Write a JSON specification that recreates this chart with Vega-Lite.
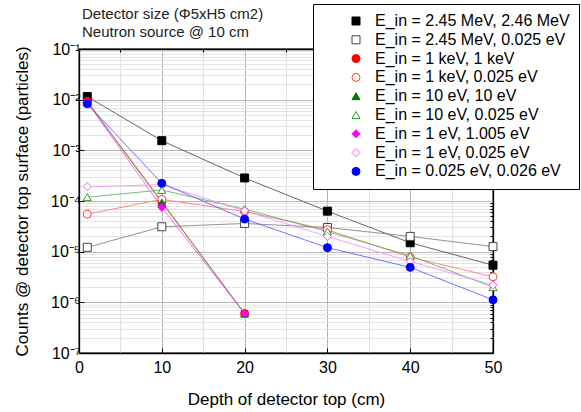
{
  "$schema": "https://vega.github.io/schema/vega-lite/v6.json",
  "width": 414,
  "height": 304,
  "autosize": {"type": "none"},
  "padding": {"left": 79, "top": 49, "right": 88, "bottom": 59},
  "background": "white",
  "config": {
    "font": "Liberation Sans",
    "view": {"stroke": "#000", "strokeWidth": 1.3},
    "axis": {"labelFont": "Liberation Sans", "titleFont": "Liberation Sans", "labelColor": "#000", "titleColor": "#000", "titleFontWeight": "normal", "domainColor": "#000", "tickColor": "#000"}
  },
  "title": {
    "text": ["Detector size (Φ5xH5 cm2)", "Neutron source @ 10 cm"],
    "anchor": "start",
    "frame": "group",
    "fontSize": 15,
    "fontWeight": "normal",
    "font": "Liberation Sans",
    "color": "#222",
    "lineHeight": 18,
    "offset": 0,
    "dx": 3,
    "dy": 36
  },
  "data": {
    "values": [
      {"series": "E_in = 2.45 MeV, 2.46 MeV", "depth": 1, "counts": 0.0115},
      {"series": "E_in = 2.45 MeV, 2.46 MeV", "depth": 10, "counts": 0.00155},
      {"series": "E_in = 2.45 MeV, 2.46 MeV", "depth": 20, "counts": 0.000285},
      {"series": "E_in = 2.45 MeV, 2.46 MeV", "depth": 30, "counts": 0.000063},
      {"series": "E_in = 2.45 MeV, 2.46 MeV", "depth": 40, "counts": 0.000015},
      {"series": "E_in = 2.45 MeV, 2.46 MeV", "depth": 50, "counts": 0.0000054},
      {"series": "E_in = 2.45 MeV, 0.025 eV", "depth": 1, "counts": 0.0000122},
      {"series": "E_in = 2.45 MeV, 0.025 eV", "depth": 10, "counts": 0.000031},
      {"series": "E_in = 2.45 MeV, 0.025 eV", "depth": 20, "counts": 0.000036},
      {"series": "E_in = 2.45 MeV, 0.025 eV", "depth": 30, "counts": 0.00003},
      {"series": "E_in = 2.45 MeV, 0.025 eV", "depth": 40, "counts": 0.00002},
      {"series": "E_in = 2.45 MeV, 0.025 eV", "depth": 50, "counts": 0.0000126},
      {"series": "E_in = 1 keV, 1 keV", "depth": 1, "counts": 0.0093},
      {"series": "E_in = 1 keV, 1 keV", "depth": 10, "counts": 0.000098},
      {"series": "E_in = 1 keV, 1 keV", "depth": 20, "counts": 0.0000006},
      {"series": "E_in = 1 keV, 0.025 eV", "depth": 1, "counts": 0.000055},
      {"series": "E_in = 1 keV, 0.025 eV", "depth": 10, "counts": 0.000108},
      {"series": "E_in = 1 keV, 0.025 eV", "depth": 20, "counts": 0.000062},
      {"series": "E_in = 1 keV, 0.025 eV", "depth": 30, "counts": 0.000027},
      {"series": "E_in = 1 keV, 0.025 eV", "depth": 40, "counts": 0.0000078},
      {"series": "E_in = 1 keV, 0.025 eV", "depth": 50, "counts": 0.0000032},
      {"series": "E_in = 10 eV, 10 eV", "depth": 1, "counts": 0.009},
      {"series": "E_in = 10 eV, 10 eV", "depth": 10, "counts": 0.000093},
      {"series": "E_in = 10 eV, 10 eV", "depth": 20, "counts": 0.0000006},
      {"series": "E_in = 10 eV, 0.025 eV", "depth": 1, "counts": 0.000119},
      {"series": "E_in = 10 eV, 0.025 eV", "depth": 10, "counts": 0.000165},
      {"series": "E_in = 10 eV, 0.025 eV", "depth": 20, "counts": 0.000069},
      {"series": "E_in = 10 eV, 0.025 eV", "depth": 30, "counts": 0.000025},
      {"series": "E_in = 10 eV, 0.025 eV", "depth": 40, "counts": 0.0000083},
      {"series": "E_in = 10 eV, 0.025 eV", "depth": 50, "counts": 0.000002},
      {"series": "E_in = 1 eV, 1.005 eV", "depth": 1, "counts": 0.0088},
      {"series": "E_in = 1 eV, 1.005 eV", "depth": 10, "counts": 0.000075},
      {"series": "E_in = 1 eV, 1.005 eV", "depth": 20, "counts": 0.0000006},
      {"series": "E_in = 1 eV, 0.025 eV", "depth": 1, "counts": 0.000192},
      {"series": "E_in = 1 eV, 0.025 eV", "depth": 10, "counts": 0.00021},
      {"series": "E_in = 1 eV, 0.025 eV", "depth": 20, "counts": 0.000064},
      {"series": "E_in = 1 eV, 0.025 eV", "depth": 30, "counts": 0.00002},
      {"series": "E_in = 1 eV, 0.025 eV", "depth": 40, "counts": 0.0000064},
      {"series": "E_in = 1 eV, 0.025 eV", "depth": 50, "counts": 0.0000022},
      {"series": "E_in = 0.025 eV, 0.026 eV", "depth": 1, "counts": 0.0083},
      {"series": "E_in = 0.025 eV, 0.026 eV", "depth": 10, "counts": 0.000224},
      {"series": "E_in = 0.025 eV, 0.026 eV", "depth": 20, "counts": 0.000044},
      {"series": "E_in = 0.025 eV, 0.026 eV", "depth": 30, "counts": 0.000012},
      {"series": "E_in = 0.025 eV, 0.026 eV", "depth": 40, "counts": 0.0000049},
      {"series": "E_in = 0.025 eV, 0.026 eV", "depth": 50, "counts": 0.00000112}
    ]
  },
  "layer": [
    {
      "mark": {"type": "line", "strokeWidth": 1, "opacity": 0.8},
      "encoding": {
        "x": {"field": "depth", "type": "quantitative", "scale": {"domain": [0, 50], "nice": false},
          "axis": {"orient": "bottom", "values": [0, 10, 20, 30, 40, 50], "grid": true, "gridColor": "#b0b0b0", "tickSize": -5, "labelFontSize": 16, "labelPadding": 11, "labelFlush": false, "title": "Depth of detector top (cm)", "titleFontSize": 17, "titlePadding": 16, "domainWidth": 1.3}},
        "y": {"field": "counts", "type": "quantitative", "scale": {"type": "log", "domain": [1e-7, 0.1], "nice": false},
          "axis": {"orient": "left", "values": [1e-7, 1e-6, 1e-5, 1e-4, 1e-3, 1e-2, 1e-1], "grid": true, "gridColor": "#b8b8b8", "tickSize": -5, "labelFontSize": 16, "labelPadding": 4, "labelExpr": "'10' + ['⁰','⁻¹','⁻²','⁻³','⁻⁴','⁻⁵','⁻⁶','⁻⁷'][round(-log(datum.value)/LN10)]", "title": "Counts @ detector top surface (particles)", "titleFontSize": 17, "titlePadding": 19, "domainWidth": 1.3}},
        "color": {"field": "series", "type": "nominal",
          "scale": {"domain": ["E_in = 0.025 eV, 0.026 eV", "E_in = 1 eV, 0.025 eV", "E_in = 1 eV, 1.005 eV", "E_in = 10 eV, 0.025 eV", "E_in = 10 eV, 10 eV", "E_in = 1 keV, 0.025 eV", "E_in = 1 keV, 1 keV", "E_in = 2.45 MeV, 0.025 eV", "E_in = 2.45 MeV, 2.46 MeV"],
            "range": ["#5050ff", "#ff80ff", "#ff40ff", "#55aa55", "#3a9a3a", "#ff7070", "#ff5050", "#777777", "#444444"]},
          "legend": null}
      }
    },
    {
      "mark": {"type": "point", "strokeWidth": 1, "opacity": 1, "size": 64},
      "encoding": {
        "x": {"field": "depth", "type": "quantitative",
          "axis": {"orient": "top", "values": [5, 15, 25, 35, 45], "grid": true, "gridColor": "#e2e2e2", "tickSize": -3, "labels": false, "title": null, "domainWidth": 1.3}},
        "y": {"field": "counts", "type": "quantitative",
          "axis": {"orient": "right", "values": [2e-7, 3e-7, 4e-7, 5e-7, 6e-7, 7e-7, 8e-7, 9e-7, 2e-6, 3e-6, 4e-6, 5e-6, 6e-6, 7e-6, 8e-6, 9e-6, 2e-5, 3e-5, 4e-5, 5e-5, 6e-5, 7e-5, 8e-5, 9e-5, 2e-4, 3e-4, 4e-4, 5e-4, 6e-4, 7e-4, 8e-4, 9e-4, 2e-3, 3e-3, 4e-3, 5e-3, 6e-3, 7e-3, 8e-3, 9e-3, 2e-2, 3e-2, 4e-2, 5e-2, 6e-2, 7e-2, 8e-2, 9e-2], "grid": true, "gridColor": "#e4e4e4", "tickSize": -3, "labels": false, "title": null, "domainWidth": 1.3}},
        "shape": {"field": "series", "type": "nominal",
          "scale": {"domain": ["E_in = 2.45 MeV, 2.46 MeV", "E_in = 2.45 MeV, 0.025 eV", "E_in = 1 keV, 1 keV", "E_in = 1 keV, 0.025 eV", "E_in = 10 eV, 10 eV", "E_in = 10 eV, 0.025 eV", "E_in = 1 eV, 1.005 eV", "E_in = 1 eV, 0.025 eV", "E_in = 0.025 eV, 0.026 eV"],
            "range": ["square", "square", "circle", "circle", "triangle-up", "triangle-up", "diamond", "diamond", "circle"]},
          "legend": {"title": null, "orient": "none", "legendX": 234, "legendY": -45, "padding": 9, "strokeColor": "#000", "fillColor": "#fff", "labelFontSize": 16, "labelFont": "Liberation Sans", "labelColor": "#000", "symbolSize": 64, "symbolOffset": 26, "labelOffset": 11, "rowPadding": 2.8, "symbolStrokeWidth": 1, "labelLimit": 400}},
        "fill": {"field": "series", "type": "nominal",
          "scale": {"domain": ["E_in = 2.45 MeV, 2.46 MeV", "E_in = 2.45 MeV, 0.025 eV", "E_in = 1 keV, 1 keV", "E_in = 1 keV, 0.025 eV", "E_in = 10 eV, 10 eV", "E_in = 10 eV, 0.025 eV", "E_in = 1 eV, 1.005 eV", "E_in = 1 eV, 0.025 eV", "E_in = 0.025 eV, 0.026 eV"],
            "range": ["#000000", "#ffffff", "#ff0000", "#ffffff", "#007a00", "#ffffff", "#ff00ff", "#ffffff", "#0000ff"]},
          "legend": {"title": null, "orient": "none", "legendX": 234, "legendY": -45, "padding": 9, "strokeColor": "#000", "fillColor": "#fff", "labelFontSize": 16, "labelFont": "Liberation Sans", "labelColor": "#000", "symbolSize": 64, "symbolOffset": 26, "labelOffset": 11, "rowPadding": 2.8, "symbolStrokeWidth": 1, "labelLimit": 400}},
        "stroke": {"field": "series", "type": "nominal",
          "scale": {"domain": ["E_in = 2.45 MeV, 2.46 MeV", "E_in = 2.45 MeV, 0.025 eV", "E_in = 1 keV, 1 keV", "E_in = 1 keV, 0.025 eV", "E_in = 10 eV, 10 eV", "E_in = 10 eV, 0.025 eV", "E_in = 1 eV, 1.005 eV", "E_in = 1 eV, 0.025 eV", "E_in = 0.025 eV, 0.026 eV"],
            "range": ["#000000", "#444444", "#ff0000", "#ff4040", "#007a00", "#2a9a2a", "#ff00ff", "#ff55ff", "#0000ff"]},
          "legend": {"title": null, "orient": "none", "legendX": 234, "legendY": -45, "padding": 9, "strokeColor": "#000", "fillColor": "#fff", "labelFontSize": 16, "labelFont": "Liberation Sans", "labelColor": "#000", "symbolSize": 64, "symbolOffset": 26, "labelOffset": 11, "rowPadding": 2.8, "symbolStrokeWidth": 1, "labelLimit": 400}}
      }
    }
  ],
  "resolve": {"axis": {"x": "independent", "y": "independent"}}
}
